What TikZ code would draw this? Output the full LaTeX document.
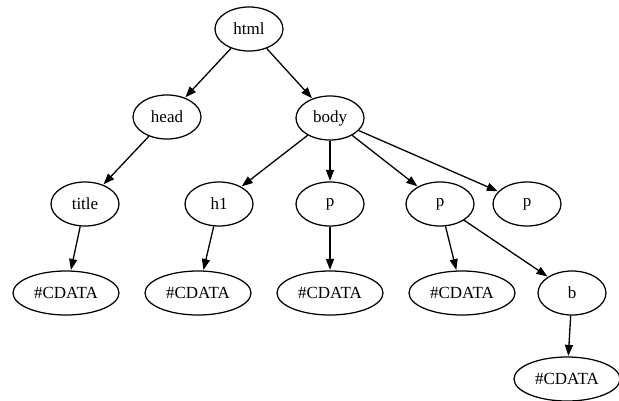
\documentclass[tikz,border=0pt]{standalone}
\usepackage{fontspec}
\setmainfont{Liberation Serif}
\usetikzlibrary{shapes.geometric,arrows.meta}
\tikzset{
  tag/.style={ellipse, draw, line width=1.25pt, inner sep=0pt,
    minimum width=68pt, minimum height=44pt, font=\fontsize{17}{19}\selectfont},
  cdata/.style={tag, minimum width=106pt},
  edge/.style={line width=1.3pt,
    -{Triangle[length=11pt,width=8pt]}, shorten >=0.5pt}
}
\begin{document}
\begin{tikzpicture}[x=1pt,y=-1pt]
  \useasboundingbox (0,0) rectangle (619,400);
  % element nodes
  \node[tag]   (html)  at (249,29)  {html};
  \node[tag]   (head)  at (167,117) {head};
  \node[tag]   (body)  at (330,118) {body};
  \node[tag]   (title) at (85,204)  {title};
  \node[tag]   (h1)    at (219,204) {h1};
  \node[tag]   (p1)    at (330,204) {p};
  \node[tag]   (p2)    at (440,204) {p};
  \node[tag]   (p3)    at (527,204) {p};
  \node[tag]   (b)     at (572,293) {b};
  % text content nodes
  \node[cdata] (c1)    at (66,293)  {\#CDATA};
  \node[cdata] (c2)    at (198,293) {\#CDATA};
  \node[cdata] (c3)    at (330,293) {\#CDATA};
  \node[cdata] (c4)    at (462,293) {\#CDATA};
  \node[cdata] (c5)    at (567,379) {\#CDATA};
  % tree edges
  \draw[edge] (html) -- (head);
  \draw[edge] (html) -- (body);
  \draw[edge] (head) -- (title);
  \draw[edge] (body) -- (h1);
  \draw[edge] (body) -- (p1);
  \draw[edge] (body) -- (p2);
  \draw[edge] (body) -- (p3);
  \draw[edge] (title) -- (c1);
  \draw[edge] (h1) -- (c2);
  \draw[edge] (p1) -- (c3);
  \draw[edge] (p2) -- (c4);
  \draw[edge] (p2) -- (b);
  \draw[edge] (b) -- (c5);
\end{tikzpicture}
\end{document}
